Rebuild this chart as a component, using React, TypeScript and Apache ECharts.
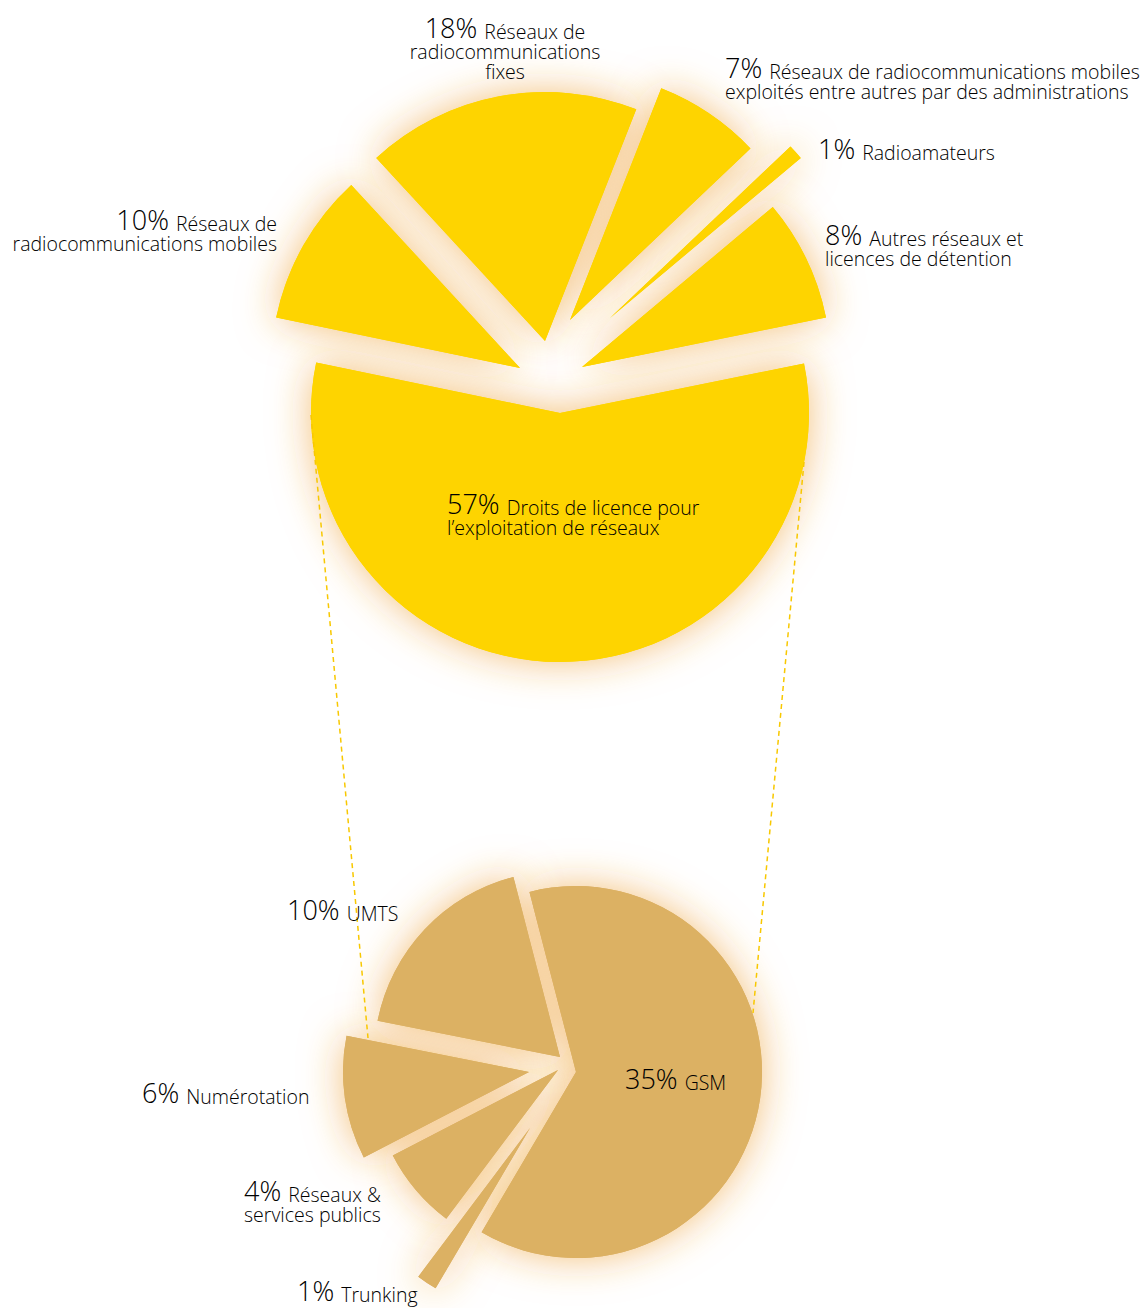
import React, { useEffect, useRef } from "react";
import * as echarts from "echarts";

// ---------- DATA ----------
// Upper pie (clockwise order starting at the left, 10% slice)
const topValues = [10, 18, 7, 1, 8, 57];
const topLabelLines = [
  ["Réseaux de", "radiocommunications mobiles"],
  ["Réseaux de", "radiocommunications", "fixes"],
  ["Réseaux de radiocommunications mobiles", "exploités entre autres par des administrations"],
  ["Radioamateurs"],
  ["Autres réseaux et", "licences de détention"],
  ["Droits de licence pour", "l’exploitation de réseaux"],
];
// Lower pie: breakdown of the mobile network licences (clockwise from GSM)
const bottomValues = [35, 1, 4, 6, 10];
const bottomLabelLines = [
  ["GSM"],
  ["Trunking"],
  ["Réseaux &", "services publics"],
  ["Numérotation"],
  ["UMTS"],
];

// ---------- LAYOUT / STYLE ----------
const TOP_COLOR = "#FED400";
const BOTTOM_COLOR = "#DCB163";
const TOP_GLOW = "rgba(236,150,40,0.6)";
const BOTTOM_GLOW = "rgba(236,150,40,0.6)";
const TOP_RADIUS = 249;
const BOTTOM_RADIUS = 186;
const TOP_START = 168.3;
const BOTTOM_START = 104.5;
// exploded slice apex positions
const topCenters = [
  [520, 368],
  [545, 341],
  [570, 320],
  [610, 318],
  [582, 367],
  [560, 413],
];
const bottomCenters = [
  [576, 1072],
  [530, 1128],
  [558, 1070],
  [529, 1072],
  [560, 1057],
];
// label anchor: [x, baseline of first line, align]
const topLabelPos: [number, number, string][] = [
  [277, 229, "right"],
  [505, 37, "center"],
  [725, 77, "left"],
  [818, 158, "left"],
  [825, 244, "left"],
  [447, 513, "left"],
];
const bottomLabelPos: [number, number, string][] = [
  [625, 1088, "left"],
  [297, 1300, "left"],
  [244, 1200, "left"],
  [142, 1102, "left"],
  [287, 919, "left"],
];
// dashed connector lines [x1, y1, x2, y2]
const connectors = [
  [311, 415, 368, 1038],
  [804, 462, 753, 1013],
];

const FONT = "'Open Sans', Roboto, sans-serif";
const TEXT_COLOR = "#2b2b2b";

function sliceSeries(
  values: number[],
  idx: number,
  center: number[],
  radius: number,
  startAngle: number,
  color: string,
  glow: string | null
) {
  return {
    type: "pie",
    silent: true,
    animation: false,
    center,
    radius,
    startAngle,
    clockwise: true,
    avoidLabelOverlap: false,
    minAngle: 0,
    label: { show: false },
    labelLine: { show: false },
    emphasis: { disabled: true },
    data: values.map((v, i) => ({
      value: v,
      itemStyle:
        i === idx
          ? glow
            ? { color, borderWidth: 0, shadowBlur: 40, shadowColor: glow }
            : { color, borderWidth: 0 }
          : { color: "rgba(0,0,0,0)", borderWidth: 0 },
    })),
  };
}

function labelText(value: number, lines: string[]) {
  const first = `{p|${value}% }{t|${lines[0]}}`;
  const rest = lines.slice(1).map((l) => `{t|${l}}`);
  return [first, ...rest].join("\n");
}

const rich = {
  p: {
    fontFamily: FONT,
    fontSize: 27,
    fontWeight: 300,
    color: TEXT_COLOR,
    verticalAlign: "bottom",
  },
  t: {
    fontFamily: FONT,
    fontSize: 19.5,
    fontWeight: 300,
    lineHeight: 20,
    color: TEXT_COLOR,
    verticalAlign: "bottom",
  },
};

export default function App() {
  const ref = useRef<HTMLDivElement>(null);

  useEffect(() => {
    if (!ref.current) return;
    const chart = echarts.init(ref.current, undefined, { renderer: "svg" });

    const series: any[] = [];
    // glow layer
    topValues.forEach((_, i) =>
      series.push(sliceSeries(topValues, i, topCenters[i], TOP_RADIUS, TOP_START, TOP_COLOR, TOP_GLOW))
    );
    bottomValues.forEach((_, i) =>
      series.push(
        sliceSeries(bottomValues, i, bottomCenters[i], BOTTOM_RADIUS, BOTTOM_START, BOTTOM_COLOR, BOTTOM_GLOW)
      )
    );
    // crisp layer
    topValues.forEach((_, i) =>
      series.push(sliceSeries(topValues, i, topCenters[i], TOP_RADIUS, TOP_START, TOP_COLOR, null))
    );
    bottomValues.forEach((_, i) =>
      series.push(sliceSeries(bottomValues, i, bottomCenters[i], BOTTOM_RADIUS, BOTTOM_START, BOTTOM_COLOR, null))
    );

    const graphics: any[] = [];
    connectors.forEach(([x1, y1, x2, y2]) =>
      graphics.push({
        type: "line",
        z: 50,
        silent: true,
        shape: { x1, y1, x2, y2 },
        style: { stroke: "#F8C800", lineWidth: 1.5, lineDash: [5, 4] },
      })
    );
    const addLabels = (values: number[], lines: string[][], pos: [number, number, string][]) => {
      values.forEach((v, i) => {
        const [x, baseline, align] = pos[i];
        graphics.push({
          type: "text",
          z: 100,
          silent: true,
          x,
          y: baseline - 23,
          style: {
            text: labelText(v, lines[i]),
            align,
            verticalAlign: "top",
            rich,
          },
        });
      });
    };
    addLabels(topValues, topLabelLines, topLabelPos);
    addLabels(bottomValues, bottomLabelLines, bottomLabelPos);

    chart.setOption({
      animation: false,
      backgroundColor: "#ffffff",
      series,
      graphic: { elements: graphics },
    });

    return () => chart.dispose();
  }, []);

  return (
    <div
      ref={ref}
      style={{ position: "absolute", left: 0, top: 0, width: 1147, height: 1308 }}
    />
  );
}
